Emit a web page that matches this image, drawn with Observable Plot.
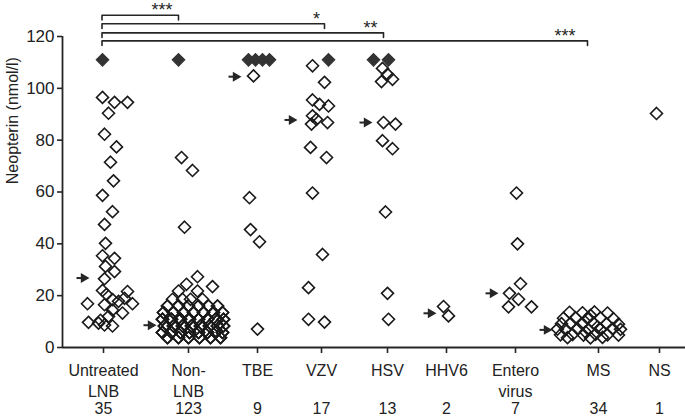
<!DOCTYPE html>
<html>
<head>
<meta charset="utf-8">
<script src="https://cdn.jsdelivr.net/npm/d3@7"></script>
<script src="https://cdn.jsdelivr.net/npm/@observablehq/plot@0.6"></script>
<style>
  html, body { margin: 0; padding: 0; background: #fff; }
</style>
</head>
<body>
<div id="chart"></div>
<script>
// ---------- data ----------
const categories = ["Untreated\nLNB", "Non-\nLNB", "TBE", "VZV", "HSV", "HHV6", "Entero\nvirus", "MS", "NS"];
const counts = [35, 123, 9, 17, 13, 2, 7, 34, 1];
const yTicks = [0, 20, 40, 60, 80, 100, 120];
const yLabel = "Neopterin (nmol/l)";

// open diamonds: [horizontal jitter, neopterin nmol/l]
const untreatedLNB = [[-1,96.5],[11,94.6],[24,94.6],[5,90.4],[1,82.3],[13,77.4],[7,71.5],[10,64.3],[-1,58.7],[9,52.4],[1,47.5],[2,40.2],[-1,35.4],[11,34.4],[2,31.3],[11,29.3],[1,26.5],[-1,22.0],[24,21.6],[3,20.5],[-16,16.9],[1,16.5],[15,17.8],[29,16.9],[9,14.4],[19,13.3],[-15,9.7],[-5,9.4],[1,8.7],[9,8.3],[21,19.0],[5,12.0],[9,18.5],[-3,10.5]];
const nonLNB = [[-7,73.3],[4,68.3],[-4,46.4],
  [9,27.3],[-2,24.4],[24,23.5],[-10,21.8],[9,21.8],
  [-16,18.6],[-6,18.6],[2,18.6],[14,18.6],
  [-21,16.0],[-10,16.0],[0,16.0],[10,16.0],[20,16.0],[29,16.0],
  [-21,16.0],[-10,16.0],[0,16.0],[10,16.0],[20,16.0],[29,16.0],
  [-25,13.5],[-15,13.5],[-5,13.5],[5,13.5],[15,13.5],[25,13.5],[34,13.5],
  [-25,13.5],[-15,13.5],[-5,13.5],[5,13.5],[15,13.5],[25,13.5],[34,13.5],
  [-26,10.9],[-17,10.9],[-8,10.9],[1,10.9],[10,10.9],[19,10.9],[27,10.9],[35,10.9],
  [-26,10.9],[-17,10.9],[-8,10.9],[1,10.9],[10,10.9],[19,10.9],[27,10.9],[35,10.9],
  [-26,10.9],[-17,10.9],[-8,10.9],[1,10.9],[10,10.9],[19,10.9],[27,10.9],[35,10.9],
  [-24,8.3],[-15,8.3],[-6,8.3],[3,8.3],[12,8.3],[21,8.3],[29,8.3],[35,8.3],
  [-24,8.3],[-15,8.3],[-6,8.3],[3,8.3],[12,8.3],[21,8.3],[29,8.3],[35,8.3],
  [-24,8.3],[-15,8.3],[-6,8.3],[3,8.3],[12,8.3],[21,8.3],[29,8.3],[35,8.3],
  [-26,5.8],[-17,5.8],[-8,5.8],[1,5.8],[10,5.8],[19,5.8],[27,5.8],[34,5.8],
  [-26,5.8],[-17,5.8],[-8,5.8],[1,5.8],[10,5.8],[19,5.8],[27,5.8],[34,5.8],
  [-26,5.8],[-17,5.8],[-8,5.8],[1,5.8],[10,5.8],[19,5.8],[27,5.8],[34,5.8],
  [-21,3.8],[-10,3.8],[0,3.8],[11,3.8],[22,3.8],[32,3.8],
  [-21,3.8],[-10,3.8],[0,3.8],[11,3.8],[22,3.8],[32,3.8]];
const tbe = [[-4,104.8],[-8,57.8],[-7,45.5],[2,40.8],[0,7.1]];
const vzv = [[-9,108.7],[3,102.3],[-9,95.5],[-2,93.8],[7,93.2],[-9,89.4],[-5,88.0],[-10,86.2],[6,86.8],[-11,77.2],[5,73.3],[-9,59.6],[1,35.9],[-13,23.1],[-13,10.9],[3,9.8]];
const hsv = [[-5,107.7],[0,105.4],[5,103.5],[-6,102.6],[-4,86.8],[8,86.2],[-5,79.8],[5,76.7],[-2,52.3],[0,20.9],[1,10.9]];
const hhv6 = [[-3,15.8],[2,12.2]];
const enteroVirus = [[1,59.6],[2,40.0],[5,24.6],[-6,20.9],[3,18.6],[-7,15.7],[16,15.7]];
const ms = [[-29,13.6],[-16,13.4],[-4,13.7],[9,13.3],[-8,12.4],
  [-35,11.3],[-23,11.5],[-11,11.2],[2,11.4],[15,11.1],
  [-37,9.2],[-28,9.3],[-16,9.1],[-5,9.4],[8,9.2],[20,9.0],[-1,8.0],
  [-41,7.1],[-33,7.0],[-21,7.2],[-10,6.9],[2,7.1],[14,7.3],[22,7.0],[-13,6.0],
  [-38,4.9],[-26,5.0],[-15,4.8],[-3,5.1],[9,4.9],[20,4.8],
  [-31,3.8],[-8,3.7],[4,3.9]];
const ns = [[-3,90.3]];
const openPoints = [untreatedLNB, nonLNB, tbe, vzv, hsv, hhv6, enteroVirus, ms, ns];

// filled diamonds (values above the axis, drawn at the top): horizontal jitter per group
const aboveRange = [[-1], [-10], [-9, -2, 5, 12], [7], [-14, 1], [], [], [], []];
const aboveValue = 111;

// medians (arrows)
const medians = [26.8, 8.6, 104.5, 87.8, 86.8, 13.2, 20.9, 6.8, null];

// significance comparisons against Untreated LNB
const comparisons = [
  {from: 0, to: 1, label: "***"},
  {from: 0, to: 3, label: "*"},
  {from: 0, to: 4, label: "**"},
  {from: 0, to: 7, label: "***"}
];

// ---------- layout ----------
const W = 685, H = 417;
const xDomain = [62, 685];
const groupCenter = [103, 188, 257, 321, 387, 446, 515, 598, 659];
const arrowOffset = [-14, -32, -16, -24, -15, -10, -17, -46, 0];
const bracketStart = -1.5;
const bracketEnd = [-10, 3, -4, -11];
const bracketLevel = [128.2, 124.9, 121.4, 118.3];
const starOffset = [-16.5, -8, -13, -22.5];
const ink = "#262626";

const open = openPoints.flatMap((pts, g) => pts.map(([j, v]) => ({x: groupCenter[g] + j, y: v})));
const filled = aboveRange.flatMap((js, g) => js.map(j => ({x: groupCenter[g] + j, y: aboveValue})));
const arrows = medians.map((m, g) => ({g, m})).filter(d => d.m != null)
  .map(d => ({tip: groupCenter[d.g] + arrowOffset[d.g], y: d.m}));

const bracketPts = comparisons.flatMap((c, i) => {
  const xs = groupCenter[c.from] + bracketStart;
  const xe = groupCenter[c.to] + bracketEnd[i];
  const lv = bracketLevel[i];
  return [{x: xs, y: lv - 1.8, z: i}, {x: xs, y: lv, z: i}, {x: xe, y: lv, z: i}, {x: xe, y: lv - 1.8, z: i}];
});
const stars = comparisons.map((c, i) => ({x: groupCenter[c.to] + bracketEnd[i] + starOffset[i], y: bracketLevel[i], label: c.label}));

const chart = Plot.plot({
  width: W,
  height: H,
  marginLeft: 62,
  marginRight: 0,
  marginTop: 36,
  marginBottom: 70,
  style: {fontFamily: "'Liberation Sans', Arial, sans-serif", fontSize: "16px", color: "#222", background: "#fff"},
  x: {type: "linear", domain: xDomain},
  y: {domain: [0, 120]},
  marks: [
    // axes
    Plot.axisY({ticks: yTicks, tickSize: 5, tickPadding: 3, label: null, stroke: ink, strokeWidth: 1.6, fontSize: 17}),
    Plot.ruleX([xDomain[0]], {y1: 0, y2: 120, stroke: ink, strokeWidth: 1.8}),
    Plot.ruleY([0], {stroke: ink, strokeWidth: 1.8}),
    Plot.axisX({ticks: groupCenter, tickFormat: d => categories[groupCenter.indexOf(d)], tickSize: 6, tickPadding: 8, lineHeight: 1.28, label: null, stroke: ink, strokeWidth: 1.6, fontSize: 16}),
    Plot.axisX({ticks: groupCenter, tickFormat: d => String(counts[groupCenter.indexOf(d)]), tickSize: 0, tickPadding: 55, label: null, fontSize: 16}),
    Plot.text([yLabel], {frameAnchor: "left", y: [63], text: d => d, rotate: -90, dx: -50, fontSize: 16, fill: "#222"}),
    // brackets
    Plot.line(bracketPts, {x: "x", y: "y", z: "z", stroke: ink, strokeWidth: 1.6}),
    Plot.text(stars, {x: "x", y: "y", text: "label", fontSize: 18, lineAnchor: "middle", dy: -5, fill: ink}),
    // data
    Plot.dot(open, {x: "x", y: "y", symbol: "diamond2", r: 5.4, stroke: "#1a1a1a", strokeWidth: 1.6, fill: "none"}),
    Plot.dot(filled, {x: "x", y: "y", symbol: "diamond2", r: 5.6, stroke: "#333", strokeWidth: 1.2, fill: "#333"}),
    // median arrows
    Plot.link(arrows, {x1: d => d.tip - 13, x2: d => d.tip - 6, y1: "y", y2: "y", stroke: ink, strokeWidth: 2}),
    Plot.dot(arrows, {x: "tip", y: "y", symbol: "triangle", rotate: 90, r: 3.7, dx: -5.8, fill: ink, stroke: "none"})
  ]
});
document.getElementById("chart").appendChild(chart);
</script>
</body>
</html>
